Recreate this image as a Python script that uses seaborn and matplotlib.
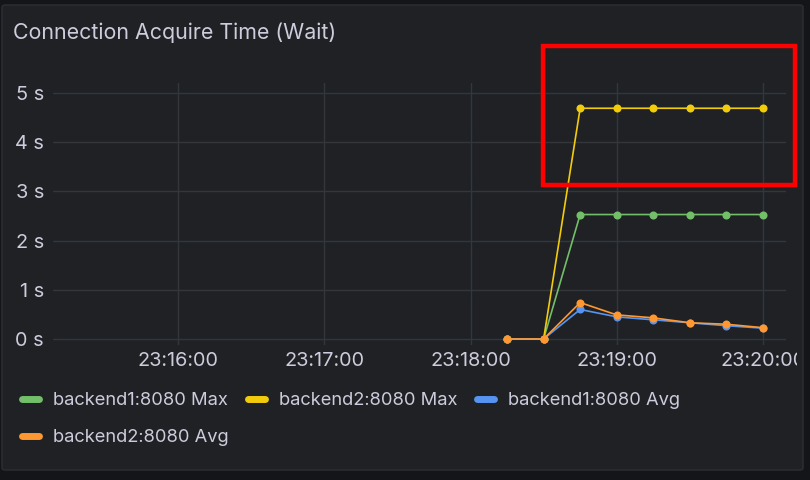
import matplotlib
matplotlib.use("Agg")
import matplotlib.pyplot as plt
import matplotlib.dates as mdates
from matplotlib.patches import FancyBboxPatch, Rectangle
from matplotlib.lines import Line2D
import seaborn as sns
import pandas as pd

# ---- data ----
times = ["23:18:15", "23:18:30", "23:18:45", "23:19:00", "23:19:15", "23:19:30", "23:19:45", "23:20:00"]
b1_max = [0, 0, 2.53, 2.53, 2.53, 2.53, 2.53, 2.53]
b2_max = [0, 0, 4.69, 4.69, 4.69, 4.69, 4.69, 4.69]
b1_avg = [0, 0, 0.60, 0.45, 0.39, 0.33, 0.27, 0.22]
b2_avg = [0, 0, 0.74, 0.49, 0.43, 0.33, 0.30, 0.23]
series_names = ["backend1:8080 Max", "backend2:8080 Max", "backend1:8080 Avg", "backend2:8080 Avg"]
series_vals = [b1_max, b2_max, b1_avg, b2_avg]
colors = ["#73bf69", "#f2cc0c", "#5794f2", "#ff9830"]
yticks = [0, 1, 2, 3, 4, 5]
ytick_labels = ["0 s", "1 s", "2 s", "3 s", "4 s", "5 s"]
xticks = ["23:16:00", "23:17:00", "23:18:00", "23:19:00", "23:20:00"]
title = "Connection Acquire Time (Wait)"

day = "2024-01-01 "
rows = []
for name, vals in zip(series_names, series_vals):
    for t, v in zip(times, vals):
        rows.append({"time": pd.Timestamp(day + t), "value": v, "series": name})
df = pd.DataFrame(rows)

sns.set_theme(style="dark")
plt.rcParams["font.family"] = ["Inter", "DejaVu Sans"]

W, H = 810, 480
BG = "#1f2125"
TXT = "#ccccdc"
GRID = "#33363b"

fig = plt.figure(figsize=(W / 100, H / 100), dpi=100, facecolor="#141518")

def fx(px):
    return px / W

def fy(py):
    return 1 - py / H

panel = FancyBboxPatch((fx(2), fy(470)), fx(801), (465) / H, boxstyle="round,pad=0,rounding_size=0.004",
                       transform=fig.transFigure, facecolor=BG, edgecolor="#2c2f34", linewidth=1.0, zorder=-5)
fig.patches.append(panel)

ax_l, ax_r, ax_t, ax_b = 53, 786, 83, 345
ax = fig.add_axes([fx(ax_l), fy(ax_b), (ax_r - ax_l) / W, (ax_b - ax_t) / H])
ax.set_zorder(1)
ax.patch.set_alpha(0)

sns.lineplot(data=df, x="time", y="value", hue="series", hue_order=series_names,
             palette=colors, marker="o", markersize=5.8, markeredgewidth=0,
             linewidth=1.2, ax=ax, legend=True)

# axes range
x0 = pd.Timestamp(day + "23:15:08.6")
x1 = pd.Timestamp(day + "23:20:09.5")
ax.set_xlim(x0, x1)
y_zero_px, y_five_px = 339, 93
ppu = (y_zero_px - y_five_px) / 5
ax.set_ylim(-(ax_b - y_zero_px) / ppu, 5 + (y_five_px - ax_t) / ppu)

ax.set_yticks(yticks)
ax.set_yticklabels(ytick_labels)
ax.set_xticks([pd.Timestamp(day + t) for t in xticks])
ax.xaxis.set_major_formatter(mdates.DateFormatter("%H:%M:%S"))
ax.set_xlabel("")
ax.set_ylabel("")
ax.grid(True, color=GRID, linewidth=1.0)
for s in ax.spines.values():
    s.set_visible(False)
ax.tick_params(axis="both", length=0, colors=TXT, labelsize=14.3)
ax.tick_params(axis="y", pad=6.5)
ax.tick_params(axis="x", pad=5)
clip_rect = Rectangle((2, 10), 795, 465, transform=None)
for lab in ax.get_xticklabels():
    lab.set_clip_path(clip_rect)

# legend
leg = ax.get_legend()
if leg is not None:
    leg.remove()
proxies = {n: Line2D([0], [0], color=c, linewidth=5, solid_capstyle="round") for n, c in zip(series_names, colors)}
order = [series_names[0], series_names[3], series_names[1], series_names[2]]
lg = fig.legend([proxies[n] for n in order], order, ncol=3, loc="upper left",
                bbox_to_anchor=(fx(22), fy(392)), frameon=False, fontsize=13.2,
                handlelength=0.95, handletextpad=0.75, columnspacing=1.05, labelspacing=1.1,
                labelcolor=TXT, borderaxespad=0, borderpad=0)

fig.text(fx(13), fy(33), title, color=TXT, fontsize=15.4, va="center", ha="left")

# red highlight rectangle
rect = Rectangle((fx(543), fy(185)), (795 - 543) / W, (185 - 46) / H, transform=fig.transFigure,
                 fill=False, edgecolor="#ff0000", linewidth=3.2, zorder=10)
fig.patches.append(rect)

fig.savefig("out.png", dpi=100, facecolor=fig.get_facecolor())
